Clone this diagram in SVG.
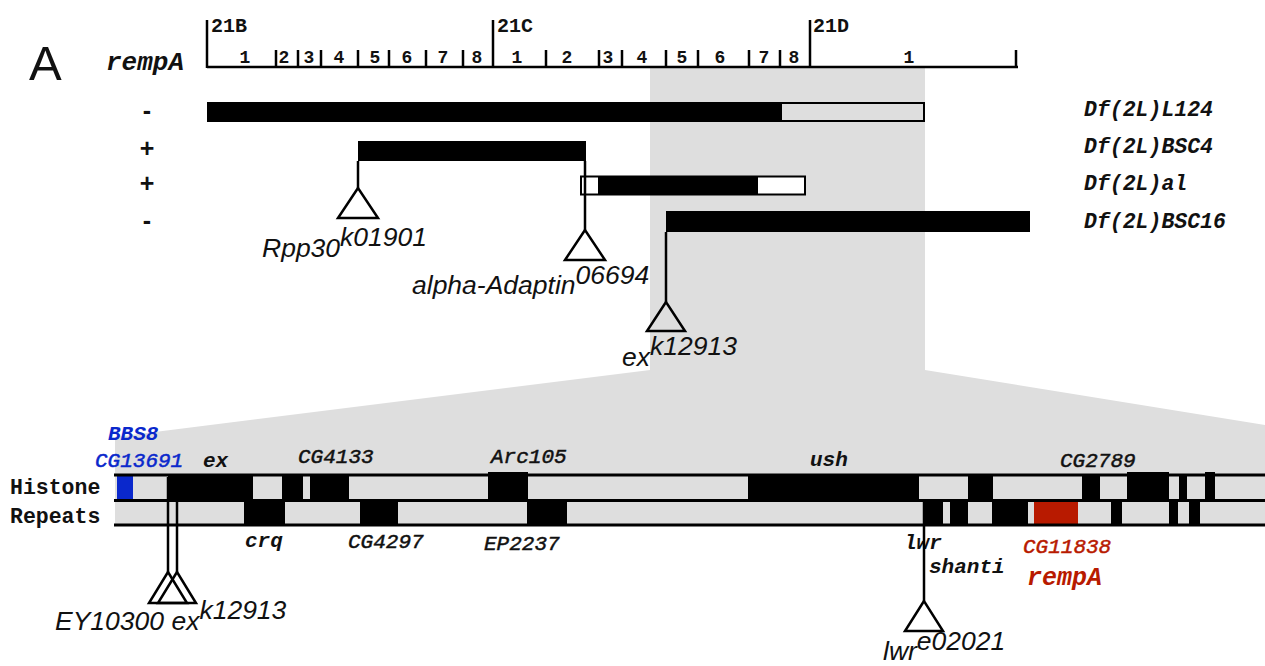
<svg xmlns="http://www.w3.org/2000/svg" width="1265" height="666" viewBox="0 0 1265 666">
<style>
.mono{font-family:"Liberation Mono","Courier New",monospace;font-weight:bold;fill:#111}
.mi{font-family:"Liberation Mono","Courier New",monospace;font-style:italic;font-weight:bold;fill:#111}
.mm{font-family:"Liberation Mono","Courier New",monospace;font-style:italic;font-weight:normal;fill:#111;stroke:#111;stroke-width:0.5}
.sans{font-family:"Liberation Sans",Arial,sans-serif;font-style:italic;font-size:26.5px;fill:#111}
.blk{fill:#000}
.tick{stroke:#000;stroke-width:2.5}
.ln{stroke:#000;stroke-width:2.5;fill:none}
.tri{stroke:#000;stroke-width:2.5;fill:none;stroke-linejoin:miter}
.trk{stroke:#000;stroke-width:3}
.blue{fill:#0a28cc}
.red{fill:#b81a00}
</style>
<rect width="1265" height="666" fill="#fff"/>
<g id="zoom-shade">
<rect x="650" y="68" width="275" height="302" fill="#dedede"/>
<polygon points="650,370 925,370 1265,425 1265,525 115,525 115,437" fill="#dedede"/>
</g>
<g id="panel-label"><text x="29" y="80" font-family="Liberation Sans,Arial,sans-serif" font-size="49" fill="#111">A</text></g>
<g id="ruler">
<text class="mi" x="106" y="70" font-size="26">rempA</text>
<line x1="207" y1="67" x2="1018" y2="67" class="tick" stroke-width="3"/>
<line x1="207" y1="20" x2="207" y2="68" class="tick"/>
<line x1="493" y1="20" x2="493" y2="68" class="tick"/>
<line x1="810" y1="20" x2="810" y2="68" class="tick"/>
<g class="tick">
<line x1="276" y1="50" x2="276" y2="67"/><line x1="298" y1="50" x2="298" y2="67"/><line x1="321" y1="50" x2="321" y2="67"/><line x1="358" y1="50" x2="358" y2="67"/><line x1="389" y1="50" x2="389" y2="67"/><line x1="426" y1="50" x2="426" y2="67"/><line x1="463" y1="50" x2="463" y2="67"/><line x1="546" y1="50" x2="546" y2="67"/><line x1="599" y1="50" x2="599" y2="67"/><line x1="622" y1="50" x2="622" y2="67"/><line x1="666" y1="50" x2="666" y2="67"/><line x1="698" y1="50" x2="698" y2="67"/><line x1="749" y1="50" x2="749" y2="67"/><line x1="780" y1="50" x2="780" y2="67"/><line x1="1016" y1="50" x2="1016" y2="67"/>
</g>
<g class="mono" font-size="20"><text x="211" y="32">21B</text><text x="497" y="32">21C</text><text x="813" y="32">21D</text></g>
<g class="mono" font-size="18" text-anchor="middle">
<text x="245" y="63">1</text><text x="284" y="63">2</text><text x="309" y="63">3</text><text x="339" y="63">4</text><text x="375" y="63">5</text><text x="407" y="63">6</text><text x="443" y="63">7</text><text x="477" y="63">8</text>
<text x="517" y="63">1</text><text x="567" y="63">2</text><text x="608" y="63">3</text><text x="642" y="63">4</text><text x="682" y="63">5</text><text x="720" y="63">6</text><text x="764" y="63">7</text><text x="794" y="63">8</text><text x="909" y="63">1</text>
</g>
</g>
<g id="signs" font-family="Liberation Sans,Arial,sans-serif" font-weight="bold" font-size="25" fill="#111" text-anchor="middle">
<text x="147" y="119">-</text><text x="147" y="157">+</text><text x="147" y="192">+</text><text x="147" y="229">-</text>
</g>
<g id="df-L124"><rect x="207" y="102" width="574" height="20" class="blk"/><rect x="781" y="103" width="143" height="18" fill="none" stroke="#000" stroke-width="2"/><text class="mi" x="1084" y="116" font-size="21.5">Df(2L)L124</text></g>
<g id="df-BSC4"><rect x="358" y="141" width="228" height="20" class="blk"/><text class="mi" x="1084" y="153" font-size="21.5">Df(2L)BSC4</text></g>
<g id="df-al"><rect x="581" y="176.5" width="224" height="18" fill="#fff" stroke="#000" stroke-width="2"/><rect x="598" y="176" width="160" height="19" class="blk"/><text class="mi" x="1084" y="190" font-size="21.5">Df(2L)al</text></g>
<g id="df-BSC16"><rect x="666" y="211" width="364" height="21" class="blk"/><text class="mi" x="1084" y="228" font-size="21.5">Df(2L)BSC16</text></g>
<g id="tracks">
<g id="histone-blocks" class="blk">
<rect x="117" y="476" width="16" height="24" class="blue"/>
<rect x="168" y="476" width="85" height="24"/><rect x="282" y="476" width="21" height="24"/><rect x="310" y="476" width="39" height="24"/><rect x="488" y="472" width="40" height="28"/><rect x="748" y="476" width="171" height="24"/><rect x="968" y="476" width="25" height="24"/><rect x="1082" y="476" width="18" height="24"/><rect x="1127" y="472" width="42" height="28"/><rect x="1179" y="476" width="8" height="24"/><rect x="1205" y="472" width="10" height="28"/>
</g>
<g id="repeat-blocks" class="blk">
<rect x="244" y="501" width="41" height="24"/><rect x="360" y="501" width="38" height="24"/><rect x="527" y="501" width="40" height="24"/><rect x="923" y="501" width="20" height="24"/><rect x="950" y="501" width="18" height="24"/><rect x="992" y="501" width="36" height="24"/><rect x="1034" y="501" width="44" height="24" class="red"/><rect x="1111" y="501" width="11" height="24"/><rect x="1169" y="501" width="9" height="24"/><rect x="1189" y="501" width="11" height="24"/>
</g>
<line x1="114" y1="475" x2="1265" y2="475" class="trk"/>
<line x1="114" y1="500.5" x2="1265" y2="500.5" class="trk"/>
<line x1="114" y1="525" x2="1265" y2="525" class="trk"/>
<text class="mono" x="10" y="494" font-size="21.5">Histone</text>
<text class="mono" x="10" y="523" font-size="21.5">Repeats</text>
</g>
<g id="gene-labels">
<text class="mi" x="108" y="440" font-size="21" style="fill:#0a28cc">BBS8</text>
<text class="mm" x="95" y="467" font-size="21" style="fill:#0a28cc;stroke:#0a28cc">CG13691</text>
<text class="mi" x="203" y="467" font-size="21">ex</text>
<text class="mm" x="298" y="463" font-size="21">CG4133</text>
<text class="mm" x="491" y="463" font-size="21">Arc105</text>
<text class="mi" x="810" y="466" font-size="21">ush</text>
<text class="mm" x="1060" y="467" font-size="21">CG2789</text>
<text class="mi" x="245" y="547" font-size="21">crq</text>
<text class="mm" x="348" y="548" font-size="21">CG4297</text>
<text class="mm" x="484" y="550" font-size="21">EP2237</text>
<text class="mi" x="904" y="549" font-size="21">lwr</text>
<text class="mi" x="929" y="573" font-size="21">shanti</text>
<text class="mm" x="1023" y="553" font-size="21" style="fill:#b81a00;stroke:#b81a00">CG11838</text>
<text class="mi" x="1027" y="585" font-size="25" style="fill:#b81a00">rempA</text>
</g>
<g id="connectors">
<line x1="358" y1="161" x2="358" y2="188" class="ln"/>
<line x1="585" y1="161" x2="585" y2="230" class="ln"/>
<line x1="666" y1="232" x2="666" y2="302" class="ln"/>
<line x1="168" y1="477" x2="168" y2="572" class="ln"/>
<line x1="177" y1="477" x2="177" y2="572" class="ln"/>
<line x1="924" y1="502" x2="924" y2="601" class="ln"/>
</g>
<g id="ins-Rpp30"><polygon points="358,188 338,218 378,218" class="tri"/><text class="sans" x="262" y="257">Rpp30<tspan dy="-11">k01901</tspan></text></g>
<g id="ins-alphaAdaptin"><polygon points="585,230 565,260 605,260" class="tri"/><text class="sans" x="412" y="294">alpha-Adaptin<tspan dy="-10">06694</tspan></text></g>
<g id="ins-ex-top"><polygon points="666,302 647,331 685,331" class="tri"/><text class="sans" x="622" y="366">ex<tspan dy="-11">k12913</tspan></text></g>
<g id="ins-EY10300"><polygon points="168,572 149,603 187,603" class="tri"/><polygon points="177,572 158,603 196,603" class="tri"/><text class="sans" x="55" y="630" font-size="27">EY10300 ex<tspan dy="-11">k12913</tspan></text></g>
<g id="ins-lwr"><polygon points="924,601 905,631 943,631" class="tri"/><text class="sans" x="883" y="660">lwr<tspan dy="-10">e02021</tspan></text></g>
</svg>
